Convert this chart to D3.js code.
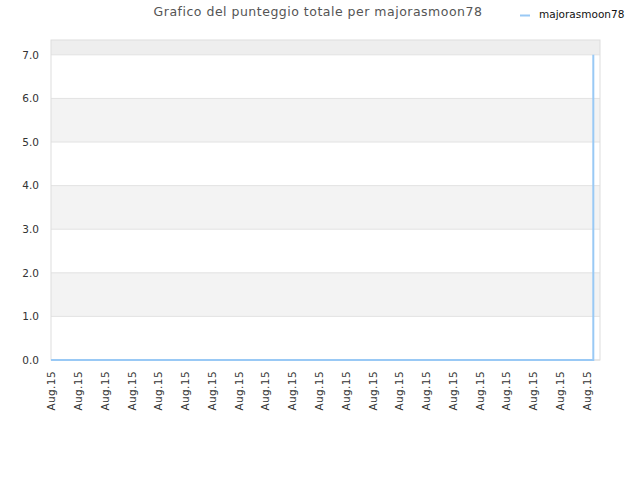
<!DOCTYPE html>
<html>
<head>
<meta charset="utf-8">
<script src="https://cdn.jsdelivr.net/npm/d3@7"></script>
<style>
  body { margin: 0; background: #fff; }
  text { font-family: "DejaVu Sans", sans-serif; }
</style>
</head>
<body>
<div id="chart"></div>
<script>
// Data
const chartTitle = "Grafico del punteggio totale per majorasmoon78";
const seriesName = "majorasmoon78";
const tickLabels = ["Aug.15", "Aug.15", "Aug.15", "Aug.15", "Aug.15", "Aug.15", "Aug.15",
    "Aug.15", "Aug.15", "Aug.15", "Aug.15", "Aug.15", "Aug.15", "Aug.15",
    "Aug.15", "Aug.15", "Aug.15", "Aug.15", "Aug.15", "Aug.15", "Aug.15"];
const pointX = [0, 20.25, 20.25];
const pointY = [0, 0, 7];
const yTicks = [0, 1, 2, 3, 4, 5, 6, 7];

let width = 640, height = 480;
let margin = { top: 40, left: 51, bottom: 120, right: 40 };
let innerW = width - margin.left - margin.right;
let innerH = height - margin.top - margin.bottom;

let svg = d3.select("#chart")
    .append("svg")
    .attr("width", width)
    .attr("height", height);

let g = svg.append("g")
    .attr("transform", `translate(${margin.left}, ${margin.top})`);

/* Scales */
let xScale = d3.scaleLinear()
    .domain([0, 20.5])
    .range([0, innerW]);

let yScale = d3.scaleLinear()
    .domain([0, 7.34])
    .range([innerH, 0]);

/* Bands */
let bands = d3.range(0, 8).map(i => [i, i + 1]);
g.selectAll(".band")
    .data(bands)
    .enter()
    .append("rect")
    .attr("x", 0)
    .attr("width", innerW)
    .attr("y", d => yScale(Math.min(d[1], 7.34)))
    .attr("height", d => yScale(d[0]) - yScale(Math.min(d[1], 7.34)))
    .attr("fill", d => d[0] === 7 ? "#eeeeee" : (d[0] % 2 === 1 ? "#f3f3f3" : "#ffffff"));

/* Grid lines */
g.selectAll(".grid")
    .data(yTicks)
    .enter()
    .append("line")
    .attr("x1", 0).attr("x2", innerW)
    .attr("y1", d => yScale(d)).attr("y2", d => yScale(d))
    .attr("stroke", "#e2e2e2")
    .attr("stroke-width", 1);

/* Border */
g.append("rect")
    .attr("x", 0).attr("y", 0)
    .attr("width", innerW).attr("height", innerH)
    .attr("fill", "none")
    .attr("stroke", "#dddddd");

/* Y axis */
let yAxis = d3.axisLeft(yScale)
    .tickValues(yTicks)
    .tickFormat(d3.format(".1f"))
    .tickSize(0)
    .tickPadding(12);

g.append("g")
    .attr("class", "axis--y")
    .call(yAxis)
    .call(a => a.select(".domain").remove())
    .selectAll("text")
    .attr("font-size", "10.5px")
    .attr("fill", "#333");

/* X axis */
let xAxis = d3.axisBottom(xScale)
    .tickValues(d3.range(tickLabels.length))
    .tickFormat(i => tickLabels[i])
    .tickSize(0);

g.append("g")
    .attr("class", "axis--x")
    .attr("transform", `translate(0, ${innerH})`)
    .call(xAxis)
    .call(a => a.select(".domain").remove())
    .selectAll("text")
    .attr("font-size", "10.5px")
    .attr("fill", "#333")
    .attr("letter-spacing", "0.4px")
    .attr("transform", "rotate(-90)")
    .attr("text-anchor", "end")
    .attr("x", -11)
    .attr("y", 0)
    .attr("dy", "0.35em");

/* Line */
let data = pointX.map((x, i) => [x, pointY[i]]);
let line = d3.line()
    .x(d => xScale(d[0]))
    .y(d => yScale(d[1]));

g.append("path")
    .datum(data)
    .attr("d", line)
    .attr("fill", "none")
    .attr("stroke", "#99c9f5")
    .attr("stroke-width", 2);

/* Title */
svg.append("text")
    .attr("x", 318)
    .attr("y", 16)
    .attr("text-anchor", "middle")
    .attr("font-size", "12.5px")
    .attr("letter-spacing", "0.5px")
    .attr("fill", "#555")
    .text(chartTitle);

/* Legend */
svg.append("line")
    .attr("x1", 520).attr("x2", 530)
    .attr("y1", 15.5).attr("y2", 15.5)
    .attr("stroke", "#99c9f5")
    .attr("stroke-width", 2);

svg.append("text")
    .attr("x", 539)
    .attr("y", 18)
    .attr("font-size", "10.5px")
    .attr("fill", "#111")
    .text(seriesName);
</script>
</body>
</html>
